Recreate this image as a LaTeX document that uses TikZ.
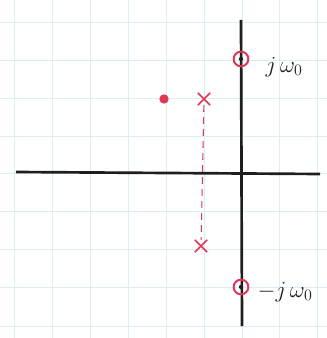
\documentclass[tikz,border=0pt]{standalone}
\usetikzlibrary{shapes.misc}
\definecolor{pen}{RGB}{225,55,85}
\definecolor{gridblue}{RGB}{218,238,245}
\definecolor{ink}{RGB}{30,30,30}
\tikzset{
  zero/.style={circle,draw=pen,line width=1.5pt,minimum size=11pt,inner sep=0pt},
  pole/.style={cross out,draw=pen,line width=1.2pt,minimum size=8pt,inner sep=0pt},
  blob/.style={circle,fill=pen,minimum size=7pt,inner sep=0pt},
  axis/.style={draw=ink,line width=2pt},
  lbl/.style={text=ink,font=\LARGE,anchor=west,inner sep=1pt}
}
\begin{document}
\begin{tikzpicture}[x=0.75pt,y=-0.75pt]
\useasboundingbox (0,0) rectangle (327,338);
% grid
\foreach \gx in {14,52,90,128,166,204,242,279,317}
  \draw[gridblue,line width=0.5pt] (\gx,0) -- (\gx,338);
\foreach \gy in {22,60,98,136,173,211,249,287,326}
  \draw[gridblue,line width=0.5pt] (0,\gy) -- (327,\gy);
% axes
\coordinate (xl) at (16,172);
\coordinate (xr) at (320,174);
\coordinate (yt) at (241,20);
\coordinate (yb) at (242,326);
\draw[axis] (xl) -- (xr);
\draw[axis] (yt) -- (yb);
% zeros
\node[zero] (z1) at (241,59) {};
\node[zero] (z2) at (241,287) {};
\fill[ink] (z1.center) circle (1.6pt);
\fill[ink] (z2.center) circle (1.6pt);
% poles
\node[pole] (p1) at (204,99) {};
\node[pole] (p2) at (201,246) {};
\node[blob] (b) at (164,99) {};
\draw[pen,line width=0.8pt,dash pattern=on 5pt off 4pt] (p1) -- (p2);
% labels
\node[lbl] (l1) at (264,67) {$j\,\omega_0$};
\node[lbl] (l2) at (256,292) {$-j\,\omega_0$};
\end{tikzpicture}
\end{document}
